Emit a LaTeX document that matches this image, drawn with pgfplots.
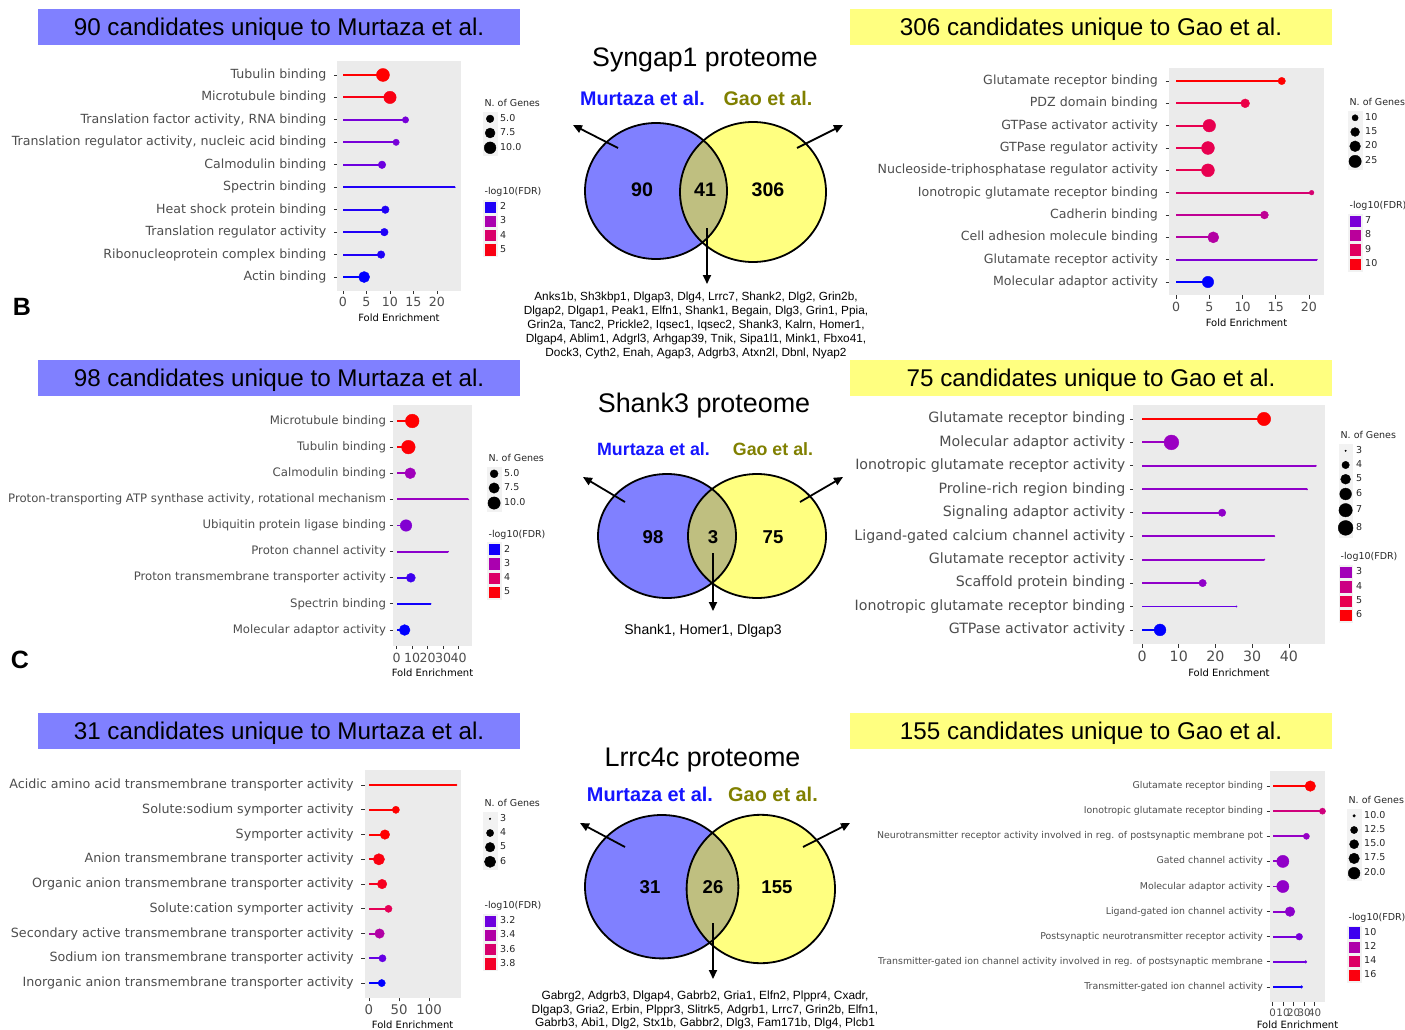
\documentclass[border=0pt]{standalone}
\usepackage{fontspec}
\setmainfont{Liberation Sans}
\newfontfamily\dv{DejaVu Sans}
\usepackage{pgfplots}
\pgfplotsset{compat=1.18}
\usepackage{pgfplotstable}
\usetikzlibrary{arrows.meta}

% blue -> red gradient (interpolated as ggplot does, in Lab)
\definecolor{g0}{RGB}{0,0,255}
\definecolor{g1}{RGB}{101,0,228}
\definecolor{g2}{RGB}{154,0,194}
\definecolor{g3}{RGB}{201,0,136}
\definecolor{g4}{RGB}{232,0,80}
\definecolor{g5}{RGB}{255,0,0}
\definecolor{panelgray}{RGB}{235,235,235}
\definecolor{keybg}{RGB}{242,242,242}
\definecolor{labgray}{RGB}{77,77,77}
\definecolor{boxblue}{RGB}{128,128,255}
\definecolor{boxyellow}{RGB}{255,255,128}
\definecolor{vennlens}{RGB}{191,191,128}
\definecolor{murtaza}{RGB}{20,20,255}
\definecolor{gao}{RGB}{128,128,0}

\newcommand{\fs}[2]{\fontsize{#1}{#2}\selectfont}

\pgfplotsset{
  colormap={bluered}{rgb255(0cm)=(0,0,255) rgb255(1cm)=(101,0,228) rgb255(2.5cm)=(154,0,194) rgb255(5cm)=(201,0,136) rgb255(7.5cm)=(232,0,80) rgb255(10cm)=(255,0,0)},
  gg/.style={
    scale only axis, anchor=north west,
    colormap name=bluered,
    axis background/.style={fill=panelgray},
    axis line style={draw=none},
    tick pos=left, tick align=outside,
    major tick length=3.5pt,
    tick style={draw=black!80, line width=0.8pt},
    ymin=0.4,
    clip=false,
    xlabel={Fold Enrichment},
    legend cell align=left,
    legend style={draw=none, fill=none, inner sep=0pt, outer sep=0pt,
      row sep=0pt, column sep=2pt, at={(1,1)}, anchor=north west,
      font=\dv\fs{9.5}{11},
      nodes={inner sep=1pt, text height=7pt, text depth=2pt, text=black!85}},
  },
}

% lollipop: a segment from 0 to the value and a sized, coloured dot, per row
\newcommand{\lolli}[1]{%
  \addplot[forget plot, scatter, only marks, mark=*, point meta=\thisrow{fdr},
    scatter/use mapped color={draw=mapped color, fill=mapped color},
    visualization depends on={\RA+\RB*sqrt(max(\thisrow{n}-\NLO,0)) \as \rr},
    visualization depends on={\thisrow{fe}*\XS \as \seg},
    scatter/@pre marker code/.append code={%
      \pgfsetlinewidth{1.9pt}\pgfsetstrokecolor{mapped color}%
      \pgfpathmoveto{\pgfpoint{0pt}{0pt}}\pgfpathlineto{\pgfpoint{-\seg pt}{0pt}}\pgfusepath{stroke}%
      \pgfsetlinewidth{0.4pt}},
    scatter/@pre marker code/.append style={/tikz/mark size=\rr pt}]
    table[x=fe, y=row] {#1};
}
\newcommand{\sizekey}[1]{\addlegendimage{legend image code/.code={%
  \pgfmathsetmacro\rrk{\RA+\RB*sqrt(max(#1-\NLO,0))}%
  \pgfmathsetmacro\hhk{max(6.9,\rrk+1.6)}%
  \fill[keybg] (0pt,-\hhk pt) rectangle (13.8pt,\hhk pt);%
  \fill[black] (6.9pt,0pt) circle[radius=\rrk pt];}}%
  \addlegendentry{#1}}
\newcommand{\colkey}[2]{\addlegendimage{legend image code/.code={%
  \fill[keybg] (0pt,-6.9pt) rectangle (13.8pt,6.9pt);%
  \fill[#1] (1.8pt,-5.1pt) rectangle (12pt,5.1pt);}}%
  \addlegendentry{#2}}
\newcommand{\legtitle}[2]{\addlegendimage{legend image code/.code={}}%
  \addlegendentry[#1]{\hspace*{-15.6pt}#2}}

\newcommand{\venn}[8]{%
  \fill[boxblue] (#1,#2) ellipse [x radius=#3pt, y radius=#4pt];
  \fill[boxyellow] (#5,#6) ellipse [x radius=#7pt, y radius=#8pt];
  \begin{scope}
    \clip (#1,#2) ellipse [x radius=#3pt, y radius=#4pt];
    \fill[vennlens] (#5,#6) ellipse [x radius=#7pt, y radius=#8pt];
  \end{scope}
  \draw[line width=1.8pt] (#1,#2) ellipse [x radius=#3pt, y radius=#4pt];
  \draw[line width=1.8pt] (#5,#6) ellipse [x radius=#7pt, y radius=#8pt];
}

% ---------------- data: row, fold enrichment, -log10(FDR), N. of genes ----------------
\pgfplotstableread{
row fe fdr n
10 8.5 5.2 12
9 10.0 5.0 11
8 13.3 2.4 4
7 11.3 2.4 4
6 8.3 2.3 5
5 23.8 2.0 2
4 9.0 2.0 5
3 8.8 2.0 5
2 8.1 2.0 5
1 4.5 1.9 9
}\dA
\pgfplotstableread{
row fe fdr n
10 15.9 10.2 12
9 10.4 9.36 15
8 5.0 9.25 26
7 4.8 9.25 27
6 4.8 9.25 27
5 20.4 8.7 8
4 13.3 8.1 13
3 5.6 7.85 21
2 21.2 7.05 6
1 4.8 6.4 22
}\dB
\pgfplotstableread{
row fe fdr n
9 10.1 5.1 12
8 7.6 5.05 12
7 8.8 2.83 8
6 46.3 2.74 2
5 6.1 2.52 9
4 33.3 2.6 2
3 9.2 2.14 6
2 22.0 2.0 2
1 5.2 1.95 8
}\dC
\pgfplotstableread{
row fe fdr n
10 33.2 6.1 7
9 8.0 2.8 8
8 47.3 2.67 3
7 44.9 2.67 3
6 21.8 2.67 4
5 36.0 2.67 3
4 33.3 2.67 3
3 16.5 2.67 4
2 25.7 2.14 3
1 4.9 1.7 6
}\dD
\pgfplotstableread{
row fe fdr n
9 145 3.9 3
8 44.7 3.9 4
7 26.5 3.9 5
6 16.5 3.86 6
5 21.8 3.82 5
4 32.4 3.68 4
3 17.6 3.4 5
2 22.4 3.18 4
1 21.2 3.1 4
}\dE
\pgfplotstableread{
row fe fdr n
9 35.9 16.3 17.5
8 47.5 13.3 11.5
7 32.2 11.2 11.5
6 9.8 11.1 21
5 9.8 11.1 21
4 16.6 11.0 16
3 25.4 10.6 12
2 31.5 10.5 10
1 27.5 9.7 10
}\dF

\begin{document}
\begin{tikzpicture}
\useasboundingbox (0,0) rectangle (1405pt,-1030pt);

% ---------- Syngap1 / Murtaza ----------
\def\RA{0.5}\def\RB{1.9}\def\NLO{2}
\pgfmathsetmacro\XS{123.1/(25.0+1.19)}
\begin{axis}[gg, at={(337.4pt,-61.5pt)}, width=123.1pt, height=229pt,
  xmin=-1.19, xmax=25.0, ymax=10.6,
  xtick={0,5,10,15,20}, xticklabels={0,5,10,15,20},
  ytick={1,...,10},
  yticklabels={Actin binding, Ribonucleoprotein complex binding, Translation regulator activity, Heat shock protein binding, Spectrin binding, Calmodulin binding, {Translation regulator activity, nucleic acid binding}, {Translation factor activity, RNA binding}, Microtubule binding, Tubulin binding},
  yticklabel style={font=\dv\fs{12.6}{15}, text=labgray, xshift=-4pt},
  xticklabel style={font=\dv\fs{12.6}{15}, text=labgray},
  xlabel style={font=\dv\fs{10}{12}},
  point meta min=1.9, point meta max=5.2,
  legend style={xshift=22.5pt, yshift=-36.8pt}]
\lolli{\dA}
\legtitle{text depth=4.4pt}{N. of Genes}
\sizekey{5.0}\sizekey{7.5}\sizekey{10.0}
\legtitle{text height=38.2pt, text depth=4.4pt}{-log10(FDR)}
\colkey{g1!30!g0}{2}\colkey{g3!33!g2}{3}\colkey{g4!55!g3}{4}\colkey{g5!76!g4}{5}
\end{axis}

% ---------- Syngap1 / Gao ----------
\def\RA{0.5}\def\RB{1.3}\def\NLO{6}
\pgfmathsetmacro\XS{155/(22.26+1.06)}
\begin{axis}[gg, at={(1169pt,-67.6pt)}, width=155pt, height=227.8pt,
  xmin=-1.06, xmax=22.26, ymax=10.6,
  xtick={0,5,10,15,20}, xticklabels={0,5,10,15,20},
  ytick={1,...,10},
  yticklabels={Molecular adaptor activity, Glutamate receptor activity, Cell adhesion molecule binding, Cadherin binding, Ionotropic glutamate receptor binding, Nucleoside-triphosphatase regulator activity, GTPase regulator activity, GTPase activator activity, PDZ domain binding, Glutamate receptor binding},
  yticklabel style={font=\dv\fs{12.6}{15}, text=labgray, xshift=-4pt},
  xticklabel style={font=\dv\fs{12.6}{15}, text=labgray},
  xlabel style={font=\dv\fs{10}{12}},
  point meta min=6.4, point meta max=10.2,
  legend style={xshift=24pt, yshift=-29.7pt}]
\lolli{\dB}
\legtitle{text depth=4.4pt}{N. of Genes}
\sizekey{10}\sizekey{15}\sizekey{20}\sizekey{25}
\legtitle{text height=38.4pt, text depth=4.4pt}{-log10(FDR)}
\colkey{g2!39!g1}{7}\colkey{g3!68!g2}{8}\colkey{g4!74!g3}{9}\colkey{g5!79!g4}{10}
\end{axis}

% ---------- Shank3 / Murtaza ----------
\def\RA{0.5}\def\RB{2.0}\def\NLO{2}
\pgfmathsetmacro\XS{79/(48.6+2.3)}
\begin{axis}[gg, at={(393pt,-405.3pt)}, width=79pt, height=240.4pt,
  xmin=-2.3, xmax=48.6, ymax=9.6,
  xtick={0,10,20,30,40}, xticklabels={0,10,20,30,40},
  ytick={1,...,9},
  yticklabels={Molecular adaptor activity, Spectrin binding, Proton transmembrane transporter activity, Proton channel activity, Ubiquitin protein ligase binding, {Proton-transporting ATP synthase activity, rotational mechanism}, Calmodulin binding, Tubulin binding, Microtubule binding},
  yticklabel style={font=\dv\fs{11.7}{14}, text=labgray},
  xticklabel style={font=\dv\fs{12.6}{15}, text=labgray, inner xsep=0pt},
  xlabel style={font=\dv\fs{10}{12}},
  point meta min=1.95, point meta max=5.1,
  legend style={xshift=15pt, yshift=-48pt}]
\lolli{\dC}
\legtitle{text depth=4.4pt}{N. of Genes}
\sizekey{5.0}\sizekey{7.5}\sizekey{10.0}
\legtitle{text height=25pt, text depth=4.4pt}{-log10(FDR)}
\colkey{g1!16!g0}{2}\colkey{g3!33!g2}{3}\colkey{g4!60!g3}{4}\colkey{g5!87!g4}{5}
\end{axis}

% ---------- Shank3 / Gao ----------
\def\RA{0.7}\def\RB{3.0}\def\NLO{3}
\pgfmathsetmacro\XS{191.3/(49.7+2.37)}
\begin{axis}[gg, at={(1133.3pt,-404.9pt)}, width=191.3pt, height=239.1pt,
  xmin=-2.37, xmax=49.7, ymax=10.6,
  xtick={0,10,20,30,40}, xticklabels={0,10,20,30,40},
  ytick={1,...,10},
  yticklabels={GTPase activator activity, Ionotropic glutamate receptor binding, Scaffold protein binding, Glutamate receptor activity, Ligand-gated calcium channel activity, Signaling adaptor activity, Proline-rich region binding, Ionotropic glutamate receptor activity, Molecular adaptor activity, Glutamate receptor binding},
  yticklabel style={font=\dv\fs{14.2}{17}, text=labgray, xshift=-1pt},
  xticklabel style={font=\dv\fs{14.2}{17}, text=labgray},
  xlabel style={font=\dv\fs{10}{12}},
  point meta min=1.7, point meta max=6.1,
  legend style={xshift=13.4pt, yshift=-25.4pt}]
\lolli{\dD}
\legtitle{text depth=4.4pt}{N. of Genes}
\sizekey{3}\sizekey{4}\sizekey{5}\sizekey{6}\sizekey{7}\sizekey{8}
\legtitle{text height=21.8pt, text depth=4.4pt}{-log10(FDR)}
\colkey{g3!18!g2}{3}\colkey{g4!9!g3}{4}\colkey{g4}{5}\colkey{g5!91!g4}{6}
\end{axis}

% ---------- Lrrc4c / Murtaza ----------
\def\RA{0.8}\def\RB{2.8}\def\NLO{3}
\pgfmathsetmacro\XS{96/(152.25+7.25)}
\begin{axis}[gg, at={(364.6pt,-770.2pt)}, width=96pt, height=227.7pt,
  xmin=-7.25, xmax=152.25, ymax=9.6,
  xtick={0,50,100}, xticklabels={0,50,100},
  ytick={1,...,9},
  yticklabels={Inorganic anion transmembrane transporter activity, Sodium ion transmembrane transporter activity, Secondary active transmembrane transporter activity, Solute:cation symporter activity, Organic anion transmembrane transporter activity, Anion transmembrane transporter activity, Symporter activity, Solute:sodium symporter activity, Acidic amino acid transmembrane transporter activity},
  yticklabel style={font=\dv\fs{12.7}{15}, text=labgray, xshift=-4pt},
  xticklabel style={font=\dv\fs{13.3}{16}, text=labgray},
  xlabel style={font=\dv\fs{10}{12}, yshift=1pt},
  point meta min=3.1, point meta max=3.9,
  legend style={xshift=22.4pt, yshift=-28.1pt}]
\lolli{\dE}
\legtitle{text depth=4.4pt}{N. of Genes}
\sizekey{3}\sizekey{4}\sizekey{5}\sizekey{6}
\legtitle{text height=38.4pt, text depth=4.4pt}{-log10(FDR)}
\colkey{g2!17!g1}{3.2}\colkey{g3!50!g2}{3.4}\colkey{g4!50!g3}{3.6}\colkey{g5!50!g4}{3.8}
\end{axis}

% ---------- Lrrc4c / Gao ----------
\def\RA{1.3}\def\RB{1.45}\def\NLO{10}
\pgfmathsetmacro\XS{55/(49.9+2.4)}
\begin{axis}[gg, at={(1270pt,-771pt)}, width=55pt, height=231pt,
  xmin=-2.4, xmax=49.9, ymax=9.6,
  xtick={0,10,20,30,40}, xticklabels={0,10,20,30,40},
  ytick={1,...,9},
  yticklabels={Transmitter-gated ion channel activity, Transmitter-gated ion channel activity involved in reg. of postsynaptic membrane, Postsynaptic neurotransmitter receptor activity, Ligand-gated ion channel activity, Molecular adaptor activity, Gated channel activity, Neurotransmitter receptor activity involved in reg. of postsynaptic membrane pot, Ionotropic glutamate receptor binding, Glutamate receptor binding},
  yticklabel style={font=\dv\fs{9.4}{11}, text=labgray},
  xticklabel style={font=\dv\fs{10.3}{12}, text=labgray, inner xsep=0pt},
  xlabel style={font=\dv\fs{10}{12}, yshift=3pt},
  point meta min=9.6, point meta max=16.3,
  legend style={xshift=22pt, yshift=-24.3pt}]
\lolli{\dF}
\legtitle{text depth=4.4pt}{N. of Genes}
\sizekey{10.0}\sizekey{12.5}\sizekey{15.0}\sizekey{17.5}\sizekey{20.0}
\legtitle{text height=38.4pt, text depth=4.4pt}{-log10(FDR)}
\colkey{g1!60!g0}{10}\colkey{g3!43!g2}{12}\colkey{g4!63!g3}{14}\colkey{g5!82!g4}{16}
\end{axis}

% ---------- titles, Venn diagrams ----------
\begin{scope}[x=1pt,y=-1pt]
\fill[boxblue] (38,9) rectangle (520,45);
\fill[boxyellow] (850,9) rectangle (1332,45);
\fill[boxblue] (38,360) rectangle (520,396);
\fill[boxyellow] (850,360) rectangle (1332,396);
\fill[boxblue] (38,713) rectangle (520,749);
\fill[boxyellow] (850,713) rectangle (1332,749);
\begin{scope}[every node/.style={font=\fs{24.2}{28}}]
\node at (279,29) {90 candidates unique to Murtaza et al.};
\node at (1091,29) {306 candidates unique to Gao et al.};
\node at (279,380) {98 candidates unique to Murtaza et al.};
\node at (1091,380) {75 candidates unique to Gao et al.};
\node at (279,733) {31 candidates unique to Murtaza et al.};
\node at (1091,733) {155 candidates unique to Gao et al.};
\end{scope}

\node[font=\bfseries\fs{25}{28}] at (22,307) {B};
\node[font=\bfseries\fs{25}{28}] at (20,660) {C};

% Row 1
\node[font=\fs{26.7}{30}] at (705,60) {Syngap1 proteome};
\node[font=\bfseries\fs{19.7}{22}, text=murtaza] at (642.5,98) {Murtaza et al.};
\node[font=\bfseries\fs{19.7}{22}, text=gao] at (768,98) {Gao et al.};
\venn{656}{191}{71}{68}{753}{192}{73}{70}
\begin{scope}[every node/.style={font=\bfseries\fs{19.6}{22}}]
\node at (642,190) {90};
\node at (705,190) {41};
\node at (768,190) {306};
\end{scope}
\begin{scope}[line width=1.8pt, -{Triangle[length=9pt,width=8pt]}]
\draw (618,148) -- (573,125);
\draw (797,148) -- (843,125);
\draw (707,228) -- (707,284);
\end{scope}
\node[align=center, font=\fs{11.8}{14}] at (696,325) {Anks1b, Sh3kbp1, Dlgap3, Dlg4, Lrrc7, Shank2, Dlg2, Grin2b,\\Dlgap2, Dlgap1, Peak1, Elfn1, Shank1, Begain, Dlg3, Grin1, Ppia,\\Grin2a, Tanc2, Prickle2, Iqsec1, Iqsec2, Shank3, Kalrn, Homer1,\\Dlgap4, Ablim1, Adgrl3, Arhgap39, Tnik, Sipa1l1, Mink1, Fbxo41,\\Dock3, Cyth2, Enah, Agap3, Adgrb3, Atxn2l, Dbnl, Nyap2};

% Row 2
\node[font=\fs{26.9}{30}] at (704,406) {Shank3 proteome};
\node[font=\bfseries\fs{17.8}{20}, text=murtaza] at (653.5,449) {Murtaza et al.};
\node[font=\bfseries\fs{17.8}{20}, text=gao] at (773,449) {Gao et al.};
\venn{667}{536}{69}{62}{757}{536}{69}{62}
\begin{scope}[every node/.style={font=\bfseries\fs{18.6}{22}}]
\node at (653,537) {98};
\node at (713,537) {3};
\node at (773,537) {75};
\end{scope}
\begin{scope}[line width=1.8pt, -{Triangle[length=9pt,width=8pt]}]
\draw (625,502) -- (583,477);
\draw (800,502) -- (843,477);
\draw (713,553) -- (713,611);
\end{scope}
\node[font=\fs{14}{16}] at (703,631) {Shank1, Homer1, Dlgap3};

% Row 3
\node[font=\fs{26.9}{30}] at (702.5,760) {Lrrc4c proteome};
\node[font=\bfseries\fs{19.9}{22}, text=murtaza] at (650,794) {Murtaza et al.};
\node[font=\bfseries\fs{19.9}{22}, text=gao] at (773,794) {Gao et al.};
\venn{661.7}{886.7}{76.7}{71.7}{760.8}{889}{74.2}{74.2}
\begin{scope}[every node/.style={font=\bfseries\fs{18.6}{22}}]
\node at (650,887) {31};
\node at (713,887) {26};
\node at (777,887) {155};
\end{scope}
\begin{scope}[line width=1.8pt, -{Triangle[length=9pt,width=8pt]}]
\draw (625,847) -- (580,823);
\draw (803,847) -- (850,823);
\draw (713,923) -- (713,979);
\end{scope}
\node[align=center, font=\fs{11.9}{13.8}] at (705,1010) {Gabrg2, Adgrb3, Dlgap4, Gabrb2, Gria1, Elfn2, Plppr4, Cxadr,\\Dlgap3, Gria2, Erbin, Plppr3, Slitrk5, Adgrb1, Lrrc7, Grin2b, Elfn1,\\Gabrb3, Abi1, Dlg2, Stx1b, Gabbr2, Dlg3, Fam171b, Dlg4, Plcb1};
\end{scope}
\end{tikzpicture}
\end{document}
